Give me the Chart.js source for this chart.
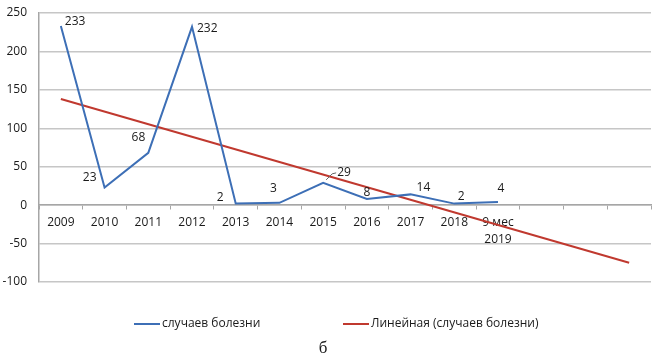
<!DOCTYPE html>
<html>
<head>
<meta charset="utf-8">
<script src="https://cdn.jsdelivr.net/npm/chart.js"></script>
<style>
  html, body { margin: 0; padding: 0; background: #fff; }
  #wrap { position: relative; width: 659px; height: 363px; }
</style>
</head>
<body>
<div id="wrap"><canvas id="myChart" width="659" height="363"></canvas></div>
<script>
// categories (3 empty slots at the end are the trend forecast)
const years = ['2009', '2010', '2011', '2012', '2013', '2014', '2015', '2016', '2017', '2018', ['9 мес', '2019'], '', '', ''];
const cases = [233, 23, 68, 232, 2, 3, 29, 8, 14, 2, 4];
// linear trend at its two ends
const trend = [138, null, null, null, null, null, null, null, null, null, null, null, null, -75];
const yTicks = [-100, -50, 0, 50, 100, 150, 200, 250];

const seriesName = 'случаев болезни';
const trendName = 'Линейная (случаев болезни)';
const caption = 'б';

// where each value label sits relative to its point: [dx, dy, align]
const labelPos = [
  [4, -4, 'left'], [-8, -10, 'right'], [-3, -15, 'right'], [5, 2, 'left'],
  [-12, -6, 'right'], [-6, -14, 'center'], [14, -10, 'left'], [0, -6, 'center'],
  [6, -7, 'left'], [7, -7, 'center'], [3, -13, 'center']
];

const font = "'Open Sans', sans-serif";
const blue = '#3d6fb6';
const red = '#c0392f';
const ink = '#1a1a1a';

const valueLabels = {
  id: 'valueLabels',
  afterDatasetsDraw(chart) {
    const ctx = chart.ctx;
    const meta = chart.getDatasetMeta(0);
    ctx.save();
    ctx.font = '12px ' + font;
    ctx.fillStyle = ink;
    ctx.textBaseline = 'middle';
    meta.data.forEach((pt, i) => {
      const p = labelPos[i];
      ctx.textAlign = p[2];
      ctx.fillText(String(cases[i]), pt.x + p[0], pt.y + p[1]);
      if (i === 6) {
        // leader line for 29
        ctx.strokeStyle = '#666';
        ctx.lineWidth = 1;
        ctx.beginPath();
        ctx.moveTo(pt.x + 3, pt.y - 3);
        ctx.lineTo(pt.x + 9, pt.y - 9);
        ctx.lineTo(pt.x + 13, pt.y - 10);
        ctx.stroke();
      }
    });
    ctx.restore();
  }
};

const legendAndCaption = {
  id: 'legendAndCaption',
  afterDraw(chart) {
    const ctx = chart.ctx;
    ctx.save();
    ctx.font = '12px ' + font;
    ctx.fillStyle = ink;
    ctx.textBaseline = 'middle';
    ctx.textAlign = 'left';
    const items = [[134, blue, seriesName], [343, red, trendName]];
    items.forEach(it => {
      ctx.strokeStyle = it[1];
      ctx.lineWidth = 2;
      ctx.beginPath();
      ctx.moveTo(it[0], 324);
      ctx.lineTo(it[0] + 26, 324);
      ctx.stroke();
      ctx.fillText(it[2], it[0] + 28, 324);
    });
    ctx.font = "17px 'Liberation Serif', serif";
    ctx.textAlign = 'center';
    ctx.fillText(caption, 323, 349);
    ctx.restore();
  }
};

new Chart(document.getElementById('myChart'), {
  type: 'line',
  data: {
    labels: years,
    datasets: [{
      label: seriesName,
      data: cases,
      borderColor: blue,
      borderWidth: 2,
      pointRadius: 0,
      tension: 0
    }, {
      label: trendName,
      data: trend,
      borderColor: red,
      borderWidth: 2,
      pointRadius: 0,
      spanGaps: true
    }]
  },
  options: {
    responsive: false,
    animation: false,
    layout: { padding: { top: 13, right: 8, bottom: 81, left: 0 } },
    plugins: { legend: { display: false }, tooltip: { enabled: false } },
    scales: {
      x: {
        position: { y: 0 },
        offset: true,
        afterFit(s) { s.height = 0; s.paddingLeft = 0; s.paddingRight = 0; },
        grid: { offset: true, drawOnChartArea: false, color: '#a6a6a6', tickLength: 4, lineWidth: 1 },
        border: { color: '#a6a6a6', width: 1.5 },
        ticks: { autoSkip: false, maxRotation: 0, padding: 5, color: ink, font: { family: font, size: 12, lineHeight: 1.4 } }
      },
      y: {
        min: -100, max: 250,
        afterBuildTicks(s) { s.ticks = yTicks.map(v => ({ value: v })); },
        afterFit(s) { s.width = 39; s.paddingTop = 0; s.paddingBottom = 0; },
        grid: { color: '#c6c6c6', lineWidth: 1.5, drawTicks: false },
        border: { color: '#a6a6a6', width: 1.5 },
        ticks: { padding: 12, color: ink, font: { family: font, size: 12 } }
      }
    }
  },
  plugins: [valueLabels, legendAndCaption]
});
</script>
</body>
</html>
